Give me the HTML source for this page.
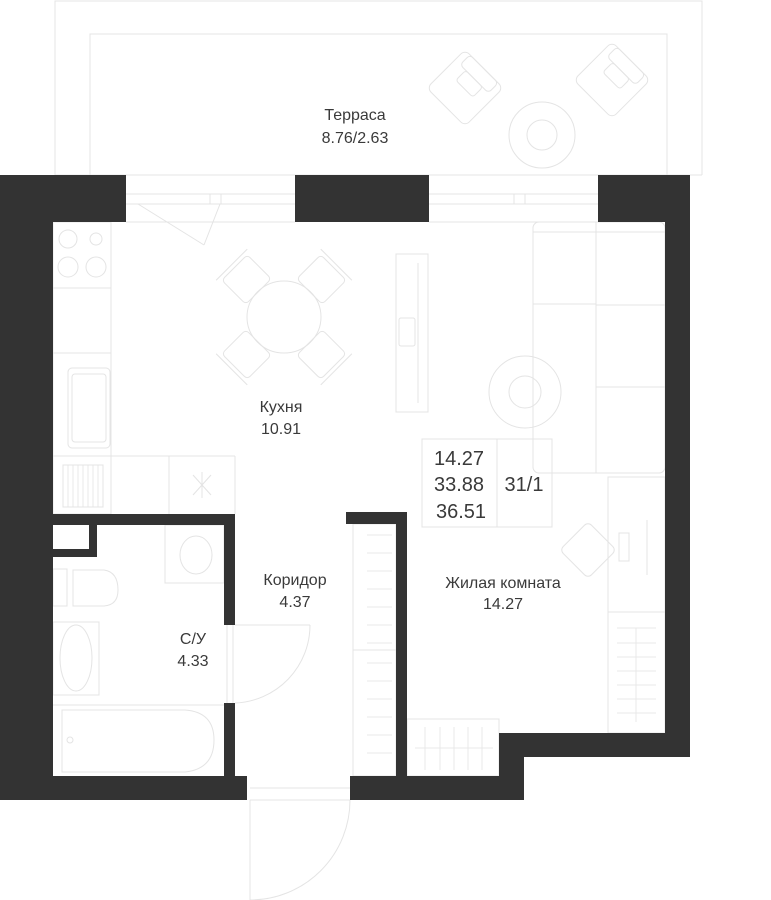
<!DOCTYPE html>
<html><head><meta charset="utf-8"><style>
html,body{margin:0;padding:0;background:#fff;}
svg{display:block;}
text{font-family:"Liberation Sans","DejaVu Sans",sans-serif;fill:#3a3a3a;}
</style></head><body>
<svg width="771" height="900" viewBox="0 0 771 900" xmlns="http://www.w3.org/2000/svg">
<g fill="none" stroke="#e4e4e4" stroke-width="1">
  <!-- terrace -->
  <polyline points="55,175 55,1 702,1 702,175"/>
  <polyline points="90,175 90,34 667,34 667,175"/>
  <line x1="55" y1="175" x2="702" y2="175"/>
  <circle cx="542" cy="135" r="33"/><circle cx="542" cy="135" r="15"/>
  <g transform="translate(465,88) rotate(45)"><rect x="-27" y="-27" width="54" height="54" rx="6"/><rect x="-20" y="-27" width="40" height="14" rx="4"/><rect x="-12" y="-13" width="24" height="14" rx="3"/></g>
  <g transform="translate(612,80) rotate(45)"><rect x="-27" y="-27" width="54" height="54" rx="6"/><rect x="-20" y="-27" width="40" height="14" rx="4"/><rect x="-12" y="-13" width="24" height="14" rx="3"/></g>
  <!-- windows -->
  <line x1="126" y1="194" x2="295" y2="194"/><line x1="126" y1="204" x2="295" y2="204"/><line x1="126" y1="222" x2="295" y2="222"/>
  <line x1="429" y1="194" x2="598" y2="194"/><line x1="429" y1="204" x2="598" y2="204"/><line x1="429" y1="222" x2="598" y2="222"/>
  <rect x="210" y="194" width="11" height="10"/><rect x="514" y="194" width="11" height="10"/>
  <line x1="138" y1="204" x2="204" y2="245"/><line x1="220" y1="204" x2="204" y2="245"/>
  <!-- kitchen counter -->
  <rect x="53" y="222" width="58" height="292"/>
  <line x1="53" y1="288" x2="111" y2="288"/><line x1="53" y1="353" x2="111" y2="353"/><line x1="53" y1="456" x2="235" y2="456"/>
  <line x1="235" y1="456" x2="235" y2="514"/><line x1="169" y1="456" x2="169" y2="514"/>
  <circle cx="68" cy="239" r="9"/><circle cx="96" cy="239" r="6"/><circle cx="68" cy="267" r="10"/><circle cx="96" cy="267" r="10"/>
  <rect x="68" y="368" width="42" height="80" rx="4"/><rect x="72" y="374" width="34" height="68" rx="3"/>
  <rect x="63" y="465" width="40" height="42"/>
  <g stroke-width="0.8"><line x1="68" y1="465" x2="68" y2="507"/><line x1="73" y1="465" x2="73" y2="507"/><line x1="78" y1="465" x2="78" y2="507"/><line x1="83" y1="465" x2="83" y2="507"/><line x1="88" y1="465" x2="88" y2="507"/><line x1="93" y1="465" x2="93" y2="507"/><line x1="98" y1="465" x2="98" y2="507"/></g>
  <line x1="193" y1="475" x2="211" y2="495"/><line x1="211" y1="475" x2="193" y2="495"/><line x1="202" y1="472" x2="202" y2="498"/>
  <!-- table + chairs -->
  <ellipse cx="284" cy="317" rx="37" ry="36"/>
  <g transform="translate(284,317)">
    <g transform="rotate(-45)"><rect x="-18" y="-70" width="36" height="34" rx="4"/><line x1="-22" y1="-74" x2="22" y2="-74"/></g>
    <g transform="rotate(45)"><rect x="-18" y="-70" width="36" height="34" rx="4"/><line x1="-22" y1="-74" x2="22" y2="-74"/></g>
    <g transform="rotate(135)"><rect x="-18" y="-70" width="36" height="34" rx="4"/><line x1="-22" y1="-74" x2="22" y2="-74"/></g>
    <g transform="rotate(225)"><rect x="-18" y="-70" width="36" height="34" rx="4"/><line x1="-22" y1="-74" x2="22" y2="-74"/></g>
  </g>
  <!-- TV -->
  <rect x="396" y="254" width="32" height="158"/><line x1="418" y1="263" x2="418" y2="403"/>
  <rect x="399" y="318" width="16" height="28" rx="2"/>
  <!-- sofa -->
  <rect x="533" y="222" width="132" height="251" rx="6"/>
  <line x1="596" y1="222" x2="596" y2="473"/>
  <line x1="533" y1="304" x2="596" y2="304"/>
  <line x1="596" y1="305" x2="665" y2="305"/><line x1="596" y1="387" x2="665" y2="387"/>
  <line x1="533" y1="232" x2="665" y2="232"/>
  <circle cx="525" cy="392" r="36"/><circle cx="525" cy="392" r="16"/>
  <!-- info box -->
  <rect x="422" y="439" width="130" height="88"/><line x1="497" y1="439" x2="497" y2="527"/>
  <!-- desk -->
  <rect x="608" y="477" width="57" height="256"/><line x1="608" y1="612" x2="665" y2="612"/>
  <line x1="647" y1="520" x2="647" y2="575"/><rect x="619" y="533" width="10" height="28"/>
  <g transform="translate(588,550) rotate(45)"><rect x="-20" y="-20" width="40" height="40" rx="5"/></g>
  <!-- wardrobes -->
  <rect x="353" y="524" width="43" height="252"/><line x1="353" y1="650" x2="396" y2="650"/>
  <rect x="407" y="719" width="92" height="57"/>
  <g stroke="#e8e8e8">
    <line x1="367" y1="535" x2="392" y2="535"/><line x1="367" y1="553" x2="392" y2="553"/><line x1="367" y1="571" x2="392" y2="571"/><line x1="367" y1="589" x2="392" y2="589"/><line x1="367" y1="607" x2="392" y2="607"/><line x1="367" y1="625" x2="392" y2="625"/><line x1="367" y1="643" x2="392" y2="643"/>
    <line x1="367" y1="663" x2="392" y2="663"/><line x1="367" y1="681" x2="392" y2="681"/><line x1="367" y1="699" x2="392" y2="699"/><line x1="367" y1="717" x2="392" y2="717"/><line x1="367" y1="735" x2="392" y2="735"/><line x1="367" y1="753" x2="392" y2="753"/>
    <line x1="636" y1="628" x2="636" y2="722"/>
    <line x1="617" y1="628" x2="656" y2="628"/><line x1="617" y1="643" x2="656" y2="643"/><line x1="617" y1="657" x2="656" y2="657"/><line x1="617" y1="671" x2="656" y2="671"/><line x1="617" y1="685" x2="656" y2="685"/><line x1="617" y1="699" x2="656" y2="699"/><line x1="617" y1="713" x2="656" y2="713"/>
    <line x1="415" y1="748" x2="493" y2="748"/>
    <line x1="425" y1="727" x2="425" y2="770"/><line x1="440" y1="727" x2="440" y2="770"/><line x1="454" y1="727" x2="454" y2="770"/><line x1="468" y1="727" x2="468" y2="770"/><line x1="482" y1="727" x2="482" y2="770"/>
  </g>
  <!-- bathroom -->
  <rect x="165" y="525" width="59" height="58"/><ellipse cx="196" cy="555" rx="16" ry="19"/>
  <rect x="53" y="569" width="14" height="37"/><path d="M73,570 L104,570 Q118,572 118,590 Q118,605 104,606 L73,606 Z"/>
  <rect x="53" y="622" width="46" height="73"/><ellipse cx="76" cy="658" rx="16" ry="33"/>
  <line x1="53" y1="705" x2="224" y2="705"/>
  <path d="M62,710 L185,710 Q214,712 214,740 Q214,769 185,772 L62,772 Z"/>
  <circle cx="70" cy="740" r="3"/>
  <!-- doors -->
  <line x1="235" y1="625" x2="310" y2="625"/><path d="M310,625 A78,78 0 0 1 235,703"/>
  <line x1="227" y1="625" x2="227" y2="703"/><line x1="233" y1="625" x2="233" y2="703"/>
  <line x1="250" y1="788" x2="350" y2="788"/><line x1="250" y1="800" x2="350" y2="800"/>
  <line x1="250" y1="800" x2="250" y2="900"/><path d="M350,800 A100,100 0 0 1 250,900"/>
</g>
<!-- walls -->
<g fill="#333">
  <rect x="0" y="175" width="126" height="47"/>
  <rect x="295" y="175" width="134" height="47"/>
  <rect x="598" y="175" width="92" height="47"/>
  <rect x="0" y="175" width="53" height="625"/>
  <rect x="665" y="175" width="25" height="582"/>
  <rect x="0" y="776" width="247" height="24"/>
  <rect x="350" y="776" width="174" height="24"/>
  <rect x="499" y="733" width="191" height="24"/>
  <rect x="499" y="733" width="25" height="67"/>
  <rect x="53" y="514" width="182" height="11"/>
  <rect x="89" y="525" width="8" height="32"/>
  <rect x="53" y="549" width="44" height="8"/>
  <rect x="224" y="514" width="11" height="111"/>
  <rect x="224" y="703" width="11" height="73"/>
  <rect x="346" y="512" width="61" height="12"/>
  <rect x="396" y="512" width="11" height="264"/>
</g>
<!-- labels -->
<g font-size="16" text-anchor="middle">
  <text x="355" y="120">Терраса</text><text x="355" y="143">8.76/2.63</text>
  <text x="281" y="412">Кухня</text><text x="281" y="434">10.91</text>
  <text x="295" y="585">Коридор</text><text x="295" y="607">4.37</text>
  <text x="193" y="644">С/У</text><text x="193" y="666">4.33</text>
  <text x="503" y="588">Жилая комната</text><text x="503" y="609">14.27</text>
</g>
<g font-size="20" text-anchor="middle">
  <text x="459" y="465">14.27</text><text x="459" y="491">33.88</text><text x="461" y="518">36.51</text>
  <text x="524" y="491">31/1</text>
</g>
</svg>
</body></html>
